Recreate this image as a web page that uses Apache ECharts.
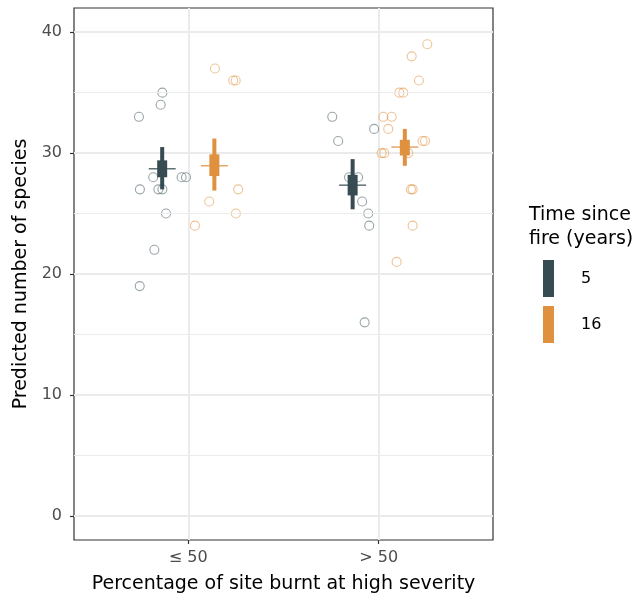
<!DOCTYPE html>
<html lang="en">
<head>
    <meta charset="UTF-8">
    <title>Predicted number of species</title>
    <script src="https://cdn.jsdelivr.net/npm/echarts@6/dist/echarts.min.js"></script>
    <style>
        html, body { margin: 0; padding: 0; background: #fff; }
        #main { width: 634px; height: 601px; }
    </style>
</head>
<body>
<div id="main"></div>
<script>
    // x categories sit at 1 and 2 on a value axis
    var categories = ['≤ 50', '> 50'];
    var groups = ['5', '16'];
    var groupColors = ['#364B52', '#E0913F'];
    var pointColors = ['rgba(54,75,82,0.5)', 'rgba(224,145,63,0.55)'];
    var yTicks = [0, 10, 20, 30, 40];
    var yMinor = [5, 15, 25, 35];
    var dodge = 0.137;

    // jittered observed points: [x, species]
    var points5 = [
        [0.864, 35], [0.855, 34], [0.741, 33], [0.816, 28], [0.965, 28], [0.988, 28],
        [0.746, 27], [0.843, 27], [0.864, 27], [0.883, 25], [0.822, 22], [0.745, 19],
        [1.756, 33], [1.787, 31], [1.976, 32], [1.844, 28], [1.892, 28], [1.913, 26],
        [1.945, 25], [1.950, 24], [1.926, 16]
    ];
    var points16 = [
        [1.140, 37], [1.236, 36], [1.249, 36], [1.262, 27], [1.110, 26], [1.250, 25], [1.035, 24],
        [2.255, 39], [2.173, 38], [2.211, 36], [2.108, 35], [2.129, 35], [2.024, 33], [2.068, 33],
        [2.050, 32], [2.230, 31], [2.243, 31], [2.015, 30], [2.029, 30], [2.155, 30],
        [2.169, 27], [2.178, 27], [2.178, 24], [2.094, 21]
    ];

    // predictions per category: [category index, lo95, hi95, lo50, hi50, median]
    var interval5 = [[0, 27.0, 30.5, 28.0, 29.4, 28.7], [1, 25.35, 29.5, 26.5, 28.2, 27.35]];
    var interval16 = [[0, 26.9, 31.2, 28.1, 29.9, 28.95], [1, 28.95, 32.0, 29.8, 31.1, 30.5]];

    function placed(rows, offset) {
        return rows.map(function (r) {
            return [r[0] + 1 + offset].concat(r.slice(1));
        });
    }

    function renderInterval(params, api) {
        var x = api.value(0);
        var top95 = api.coord([x, api.value(2)]);
        var bot95 = api.coord([x, api.value(1)]);
        var top50 = api.coord([x, api.value(4)]);
        var bot50 = api.coord([x, api.value(3)]);
        var mid = api.coord([x, api.value(5)]);
        var color = api.visual('color');
        return {
            type: 'group',
            children: [
                {type: 'rect', shape: {x: top95[0] - 2, y: top95[1], width: 4, height: bot95[1] - top95[1]}, style: {fill: color}},
                {type: 'rect', shape: {x: top50[0] - 5, y: top50[1], width: 10, height: bot50[1] - top50[1]}, style: {fill: color}},
                {type: 'line', shape: {x1: mid[0] - 13.5, y1: mid[1], x2: mid[0] + 13.5, y2: mid[1]}, style: {stroke: color, lineWidth: 1.2}}
            ]
        };
    }

    var font = 'DejaVu Sans, sans-serif';
    var myChart = echarts.init(document.getElementById('main'));

    var option = {
        animation: false,
        title: {
            text: 'Time since\nfire (years)',
            left: 524,
            top: 198,
            textStyle: {fontFamily: font, fontSize: 19, fontWeight: 'normal', color: '#000', lineHeight: 24}
        },
        legend: {
            orient: 'vertical',
            left: 538,
            top: 255,
            itemWidth: 11,
            itemHeight: 37,
            itemGap: 9,
            selectedMode: false,
            textStyle: {fontFamily: font, fontSize: 16, color: '#000', padding: [8, 0, 0, 22]},
            data: [
                {name: groups[0], icon: 'rect', itemStyle: {color: groupColors[0], opacity: 1, borderWidth: 0}},
                {name: groups[1], icon: 'rect', itemStyle: {color: groupColors[1], opacity: 1, borderWidth: 0}}
            ]
        },
        grid: {
            left: 74, right: 141, top: 8, bottom: 61,
            show: true, borderColor: '#333', borderWidth: 1.2, backgroundColor: '#fff'
        },
        xAxis: {
            type: 'value',
            min: 0.4, max: 2.6,
            name: 'Percentage of site burnt at high severity',
            nameLocation: 'middle',
            nameGap: 35,
            nameTextStyle: {fontFamily: font, fontSize: 19, color: '#000'},
            axisLine: {show: false, onZero: false},
            axisTick: {show: true, length: 4, customValues: [1, 2], lineStyle: {color: '#333', width: 1.2}},
            axisLabel: {
                customValues: [1, 2], margin: 10,
                fontFamily: font, fontSize: 16, color: '#4d4d4d',
                formatter: function (v) { return categories[Math.round(v) - 1]; }
            },
            splitLine: {show: true, lineStyle: {color: '#ebebeb', width: 2}}
        },
        yAxis: {
            type: 'value',
            min: -2, max: 42,
            name: 'Predicted number of species',
            nameLocation: 'middle',
            nameGap: 39,
            nameTextStyle: {fontFamily: font, fontSize: 19, color: '#000'},
            axisLine: {show: false, onZero: false},
            axisTick: {show: true, length: 4, customValues: yTicks, lineStyle: {color: '#333', width: 1.2}},
            axisLabel: {customValues: yTicks, margin: 12, fontFamily: font, fontSize: 16, color: '#4d4d4d'},
            splitLine: {show: true, lineStyle: {color: '#ebebeb', width: 2}}
        },
        series: [
            {
                name: 'minor',
                type: 'scatter',
                data: [],
                z: 1,
                silent: true,
                markLine: {
                    silent: true,
                    symbol: 'none',
                    label: {show: false},
                    lineStyle: {color: '#ececec', width: 1, type: 'solid'},
                    data: yMinor.map(function (v) { return {yAxis: v}; })
                }
            },
            {
                name: groups[0], type: 'scatter', data: points5, z: 2,
                symbol: 'circle', symbolSize: 9,
                itemStyle: {color: 'rgba(0,0,0,0)', borderColor: pointColors[0], borderWidth: 1.1, opacity: 1}
            },
            {
                name: groups[1], type: 'scatter', data: points16, z: 2,
                symbol: 'circle', symbolSize: 9,
                itemStyle: {color: 'rgba(0,0,0,0)', borderColor: pointColors[1], borderWidth: 1.1, opacity: 1}
            },
            {
                name: groups[0], type: 'custom', z: 3,
                renderItem: renderInterval,
                itemStyle: {color: groupColors[0]},
                encode: {x: 0, y: [1, 2, 3, 4, 5]},
                data: placed(interval5, -dodge)
            },
            {
                name: groups[1], type: 'custom', z: 3,
                renderItem: renderInterval,
                itemStyle: {color: groupColors[1]},
                encode: {x: 0, y: [1, 2, 3, 4, 5]},
                data: placed(interval16, dodge)
            }
        ]
    };

    myChart.setOption(option, true);
</script>
</body>
</html>
